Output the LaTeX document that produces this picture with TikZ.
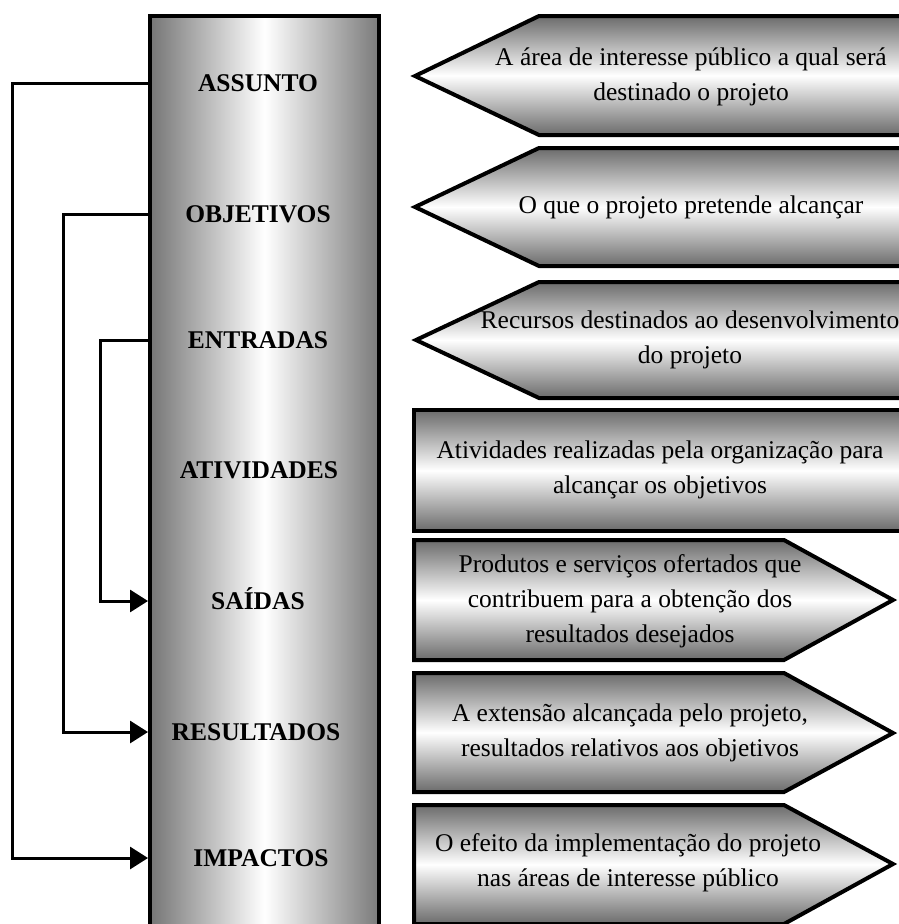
\documentclass[tikz,border=0pt]{standalone}
\usepackage{fontspec}
\setmainfont{Liberation Serif}
\usetikzlibrary{arrows.meta, positioning}

\begin{document}
\begin{tikzpicture}[x=1pt, y=-1pt,
    every node/.style={font=\fontsize{25.5}{35}\selectfont},
    etapa/.style={font=\fontsize{25.5}{30}\selectfont\bfseries, text height=17pt, text depth=0pt, inner sep=0pt},
    desc/.style={align=center, inner sep=0pt},
    faixa/.style={draw, line width=4pt, top color=black!58, bottom color=black!58, middle color=white},
    liga/.style={line width=3pt},
    seta/.style={liga, -{Triangle[length=18pt, width=22pt]}}]
  \useasboundingbox (0,0) rectangle (899,924);
  \clip (0,0) rectangle (899,924);

  % coluna central com as etapas
  \node[draw, line width=4pt, minimum width=229pt, minimum height=910pt, inner sep=0pt, left color=black!54, right color=black!52, middle color=white] (col) at (264.5,471) {};
  \node[etapa] (assunto) at (258,83) {ASSUNTO};
  \node[etapa] (objetivos) at (258,214) {OBJETIVOS};
  \node[etapa] (entradas) at (258,340) {ENTRADAS};
  \node[etapa] (atividades) at (259,470) {ATIVIDADES};
  \node[etapa] (saidas) at (258,601) {SAÍDAS};
  \node[etapa] (resultados) at (256,732) {RESULTADOS};
  \node[etapa] (impactos) at (261,858) {IMPACTOS};

  % ligacoes a esquerda
  \draw[seta] (assunto -| col.west) -- ++(-136,0) |- (impactos -| col.west);
  \draw[seta] (objetivos -| col.west) -- ++(-85,0) |- (resultados -| col.west);
  \draw[seta] (entradas -| col.west) -- ++(-48,0) |- (saidas -| col.west);

  % faixas a direita
  \path[faixa] (415,76) -- (539,16) -- (930,16) -- (930,135) -- (539,135) -- cycle;
  \path[faixa] (415,207) -- (539,148) -- (930,148) -- (930,266) -- (539,266) -- cycle;
  \path[faixa] (416,340) -- (539,282) -- (930,282) -- (930,398) -- (539,398) -- cycle;
  \path[faixa] (414,410) rectangle (930,531);
  \path[faixa] (414,540) -- (784,540) -- (893,600) -- (784,660) -- (414,660) -- cycle;
  \path[faixa] (414,673) -- (784,673) -- (893,733) -- (784,792) -- (414,792) -- cycle;
  \path[faixa] (414,805) -- (784,805) -- (893,864) -- (784,924) -- (414,924) -- cycle;

  \node[desc] (d-assunto) at (691,77) {A área de interesse público a qual será\\destinado o projeto};
  \node[desc] (d-objetivos) at (691,207) {O que o projeto pretende alcançar};
  \node[desc] (d-entradas) at (690,340) {Recursos destinados ao desenvolvimento\\do projeto};
  \node[desc] (d-atividades) at (660,470) {Atividades realizadas pela organização para\\alcançar os objetivos};
  \node[desc] (d-saidas) at (630,601) {Produtos e serviços ofertados que\\contribuem para a obtenção dos\\resultados desejados};
  \node[desc] (d-resultados) at (630,733) {A extensão alcançada pelo projeto,\\resultados relativos aos objetivos};
  \node[desc] (d-impactos) at (628,863) {O efeito da implementação do projeto\\nas áreas de interesse público};
\end{tikzpicture}
\end{document}
